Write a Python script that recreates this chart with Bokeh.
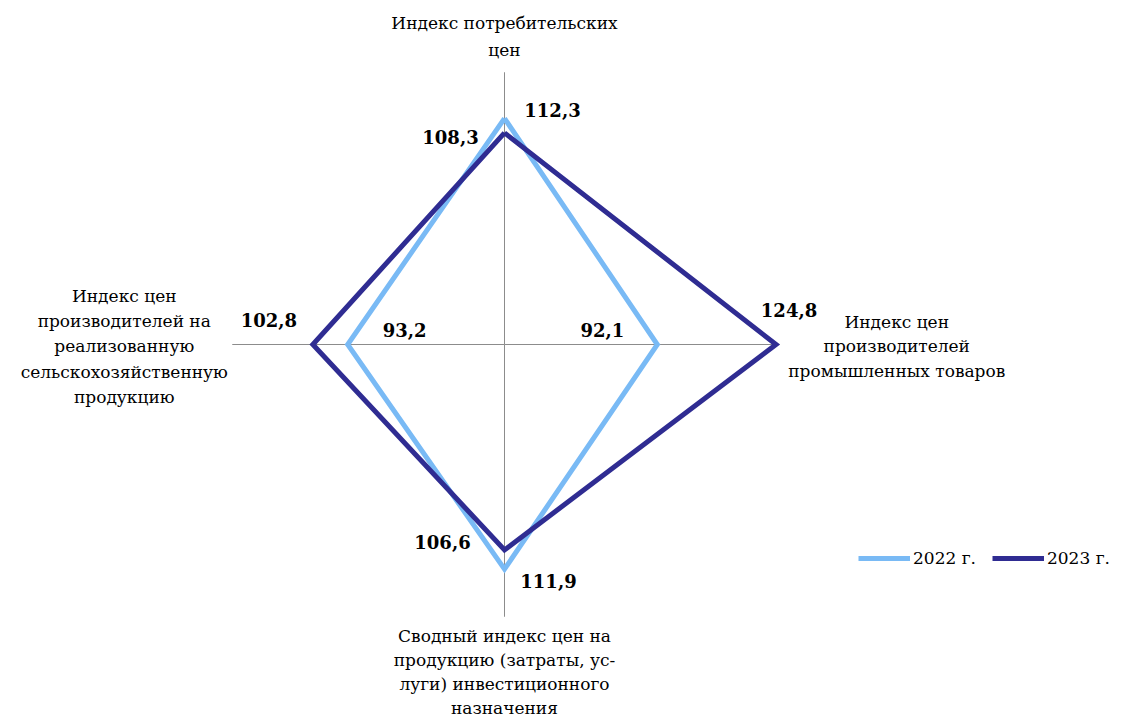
from bokeh.plotting import figure
from bokeh.models import ColumnDataSource, Legend, LegendItem
from bokeh.core.properties import value
from bokeh.embed import file_html
from bokeh.resources import INLINE
import math

categories = [
    "Индекс потребительских\nцен",
    "Индекс цен\nпроизводителей\nпромышленных товаров",
    "Сводный индекс цен на\nпродукцию (затраты, ус-\nлуги) инвестиционного\nназначения",
    "Индекс цен\nпроизводителей на\nреализованную\nсельскохозяйственную\nпродукцию",
]
series_names = ["2022 г.", "2023 г."]
v2022 = [112.3, 92.1, 111.9, 93.2]
v2023 = [108.3, 124.8, 106.6, 102.8]
axis_min = 50
axis_max = 125

colors = ["#79BAF5", "#2F2C92"]
FONT = "DejaVu Serif"

W, H = 1126, 722
cx, cy = 504, 344          # centre in figure pixels (from top-left)
ppu = 3.63                 # pixels per unit

p = figure(width=W, height=H, output_backend="svg", toolbar_location=None,
           x_range=(-cx / ppu, (W - cx) / ppu),
           y_range=(-(H - cy) / ppu, cy / ppu),
           min_border=0, min_border_left=0, min_border_right=0,
           min_border_top=0, min_border_bottom=0)
p.axis.visible = False
p.grid.visible = False
p.outline_line_color = None
p.background_fill_color = "white"

# directions: top, right, bottom, left
angles = [math.pi / 2, 0, -math.pi / 2, math.pi]


def xy(vals):
    xs = [(v - axis_min) * math.cos(a) for v, a in zip(vals, angles)]
    ys = [(v - axis_min) * math.sin(a) for v, a in zip(vals, angles)]
    return xs, ys


# axes
ax_x, ax_y = xy([axis_max] * 4)
p.segment(x0=[0] * 4, y0=[0] * 4, x1=ax_x, y1=ax_y, line_color="#8C8C8C", line_width=1)

renderers = []
for vals, col in zip([v2022, v2023], colors):
    xs, ys = xy(vals)
    r = p.line(xs + [xs[0]], ys + [ys[0]], line_color=col, line_width=5, line_join="miter")
    renderers.append(r)

# value labels
offs = {
    0: [(48, -8), (-55, -15), (44, 12), (57, -15)],
    1: [(-54, 4), (13, -35), (-62, -8), (-44, -25)],
}
for si, vals in enumerate([v2022, v2023]):
    xs, ys = xy(vals)
    src = ColumnDataSource(dict(
        x=xs, y=ys,
        t=[f"{v:.1f}".replace(".", ",") for v in vals],
        xo=[o[0] for o in offs[si]],
        yo=[o[1] for o in offs[si]],
    ))
    p.text(x="x", y="y", text="t", x_offset="xo", y_offset="yo", source=src,
           text_font=value(FONT), text_font_style="bold",
           text_font_size="18px", text_align="center", text_baseline="middle",
           text_color="black")

# category labels
cat_off = [(0, -36), (120, 2), (0, 55), (-108, 2)]
cat_lh = [1.36, 1.22, 1.2, 1.26]
csrc = ColumnDataSource(dict(
    x=ax_x, y=ax_y, t=categories,
    xo=[o[0] for o in cat_off], yo=[o[1] for o in cat_off], lh=cat_lh,
))
p.text(x="x", y="y", text="t", x_offset="xo", y_offset="yo", source=csrc,
       text_font=value(FONT), text_font_size="17px",
       text_align="center", text_baseline="middle", text_color="black",
       text_line_height="lh")

legend = Legend(items=[LegendItem(label=n, renderers=[r]) for n, r in zip(series_names, renderers)],
                orientation="horizontal", location=(858, 154),
                glyph_width=52, glyph_height=20, label_standoff=3, spacing=16,
                padding=0, margin=0, border_line_alpha=0, background_fill_alpha=0,
                label_text_font=FONT, label_text_font_size="17px",
                label_text_color="black")
p.add_layout(legend, "center")

open("out.html", "w").write(file_html(p, INLINE))
